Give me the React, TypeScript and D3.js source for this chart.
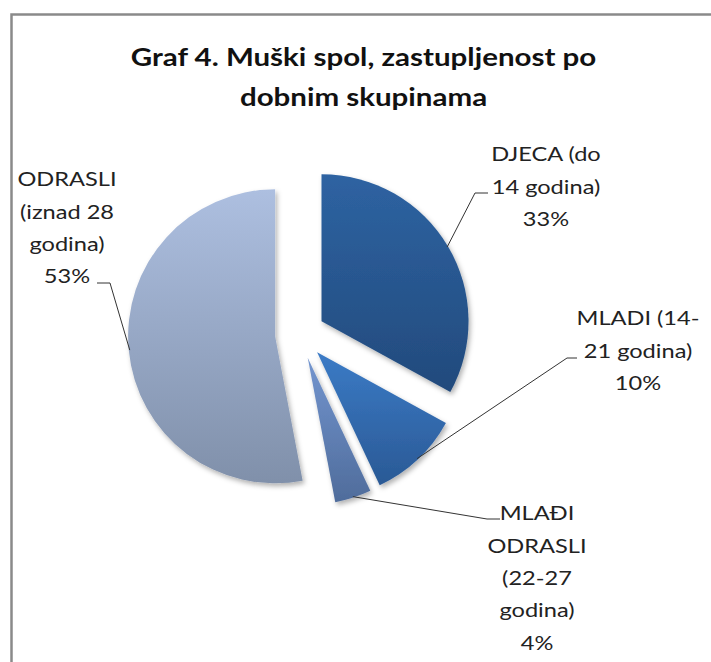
import React from 'react';
import * as d3 from 'd3';

// data
const categories = ['DJECA', 'MLADI', 'MLAĐI ODRASLI', 'ODRASLI'];
const values = [33, 10, 4, 53];
const labelLines = [
  ['DJECA (do', '14 godina)'],
  ['MLADI (14-', '21 godina)'],
  ['MLAĐI', 'ODRASLI', '(22-27', 'godina)'],
  ['ODRASLI', '(iznad 28', 'godina)'],
];
const titleLines = ['Graf 4. Muški spol, zastupljenost po', 'dobnim skupinama'];

// gradient stops (top, bottom) per slice
const sliceColors = [
  ['#2e63a2', '#224a7c'],
  ['#3b7bc6', '#2a5995'],
  ['#7395cf', '#4f6c9b'],
  ['#adbfe0', '#8090aa'],
];

// label layout: text centre x, first line centre y, elbow and end of the leader line
const labelLayout = [
  { x: 546, y: 154, elbow: [475, 193], end: [488, 193] },
  { x: 638, y: 318, elbow: [567, 358], end: [577, 358] },
  { x: 537, y: 513, elbow: [487, 519], end: [500, 519] },
  { x: 67, y: 179, elbow: [110, 283], end: [97, 283] },
];

const width = 711;
const height = 662;
const cx = 300;
const cy = 334;
const radius = 147;
const explode = 25;
const lineStep = 32.3;
// the reference text is a bit wider than Lato, stretch it horizontally
const stretch = 1.18;

export default function App() {
  const pie = d3.pie<number>().sort(null).startAngle(0).endAngle(2 * Math.PI);
  const arcs = pie(values);
  const arc = d3.arc<d3.PieArcDatum<number>>().innerRadius(0).outerRadius(radius);

  const total = d3.sum(values);

  return (
    <svg width={width} height={height} style={{ position: 'absolute', left: 0, top: 0, background: '#fff' }}>
      <defs>
        {sliceColors.map((c, i) => (
          <linearGradient key={i} id={`grad${i}`} x1="0" y1="0" x2="0" y2="1">
            <stop offset="0%" stopColor={c[0]} />
            <stop offset="100%" stopColor={c[1]} />
          </linearGradient>
        ))}
        <filter id="shadow" x="-20%" y="-20%" width="140%" height="140%">
          <feDropShadow dx="2" dy="3" stdDeviation="2.5" floodColor="#000" floodOpacity="0.3" />
        </filter>
      </defs>

      {/* chart frame, only top and left edges are in view */}
      <rect x={11.5} y={14.5} width={760} height={720} fill="none" stroke="#8a8a8a" strokeWidth={2.5} />

      {/* title */}
      <g transform={`translate(363.5,0) scale(${stretch},1)`}>
        <text textAnchor="middle" fontFamily="Lato, 'Open Sans', sans-serif" fontWeight="bold" fontSize={25} fill="#111">
          {titleLines.map((t, i) => (
            <tspan key={i} x={0} y={66 + i * 40}>{t}</tspan>
          ))}
        </text>
      </g>

      {/* slices */}
      <g filter="url(#shadow)">
        {arcs.map((a, i) => {
          const mid = (a.startAngle + a.endAngle) / 2;
          const ox = cx + explode * Math.sin(mid);
          const oy = cy - explode * Math.cos(mid);
          return (
            <path key={categories[i]} d={arc(a) || ''} transform={`translate(${ox},${oy})`} fill={`url(#grad${i})`} />
          );
        })}
      </g>

      {/* leader lines */}
      {arcs.map((a, i) => {
        const mid = (a.startAngle + a.endAngle) / 2;
        const sx = cx + (explode + radius - 1) * Math.sin(mid);
        const sy = cy - (explode + radius - 1) * Math.cos(mid);
        const l = labelLayout[i];
        const pts: [number, number][] = [[sx, sy], l.elbow as [number, number], l.end as [number, number]];
        return <path key={i} d={d3.line()(pts) || ''} fill="none" stroke="#333" strokeWidth={1} />;
      })}

      {/* labels */}
      {arcs.map((a, i) => {
        const l = labelLayout[i];
        const pct = d3.format('.0%')(a.value / total);
        const lines = [...labelLines[i], pct];
        return (
          <g key={i} transform={`translate(${l.x},0) scale(${stretch},1)`}>
            <text textAnchor="middle" fontFamily="Lato, 'Open Sans', sans-serif" fontSize={20} fill="#222">
              {lines.map((t, j) => (
                <tspan key={j} x={0} y={l.y + 7.5 + j * lineStep}>{t}</tspan>
              ))}
            </text>
          </g>
        );
      })}
    </svg>
  );
}
